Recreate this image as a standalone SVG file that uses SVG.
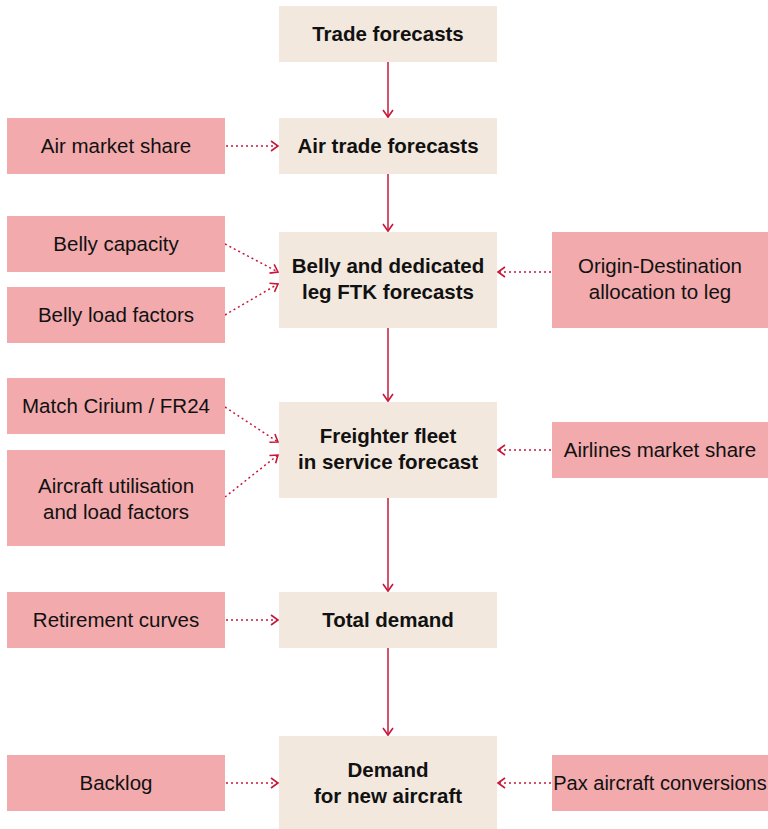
<svg xmlns="http://www.w3.org/2000/svg" width="768" height="829" viewBox="0 0 768 829">
<style>
.c{fill:#F2E8DD}
.p{fill:#F2AAAD}
.tb{font-family:"Liberation Sans",Arial,sans-serif;font-size:20.5px;font-weight:bold;fill:#111;text-anchor:middle}
.tr{font-family:"Liberation Sans",Arial,sans-serif;font-size:20.5px;fill:#111;text-anchor:middle}
.s{stroke:#C8173A;stroke-width:1.5;fill:none}
.d{stroke:#C8173A;stroke-width:1.5;fill:none;stroke-dasharray:2 3}
</style>
<defs>
<marker id="a" markerUnits="userSpaceOnUse" markerWidth="12" markerHeight="12" refX="9" refY="6" orient="auto">
<path d="M2,1 L9,6 L2,11" stroke="#C8173A" stroke-width="1.6" fill="none"/>
</marker>
</defs>
<rect width="768" height="829" fill="#fff"/>
<g id="connectors">
<line class="s" x1="388" y1="62" x2="388" y2="117" marker-end="url(#a)"/>
<line class="s" x1="388" y1="174" x2="388" y2="231" marker-end="url(#a)"/>
<line class="s" x1="388" y1="328" x2="388" y2="401" marker-end="url(#a)"/>
<line class="s" x1="388" y1="498" x2="388" y2="591" marker-end="url(#a)"/>
<line class="s" x1="388" y1="648" x2="388" y2="735" marker-end="url(#a)"/>
<line class="d" x1="226" y1="146" x2="278" y2="146" marker-end="url(#a)"/>
<line class="d" x1="225" y1="244" x2="278" y2="272" marker-end="url(#a)"/>
<line class="d" x1="225" y1="315" x2="278" y2="284" marker-end="url(#a)"/>
<line class="d" x1="225" y1="407" x2="278" y2="442" marker-end="url(#a)"/>
<line class="d" x1="225" y1="497" x2="278" y2="455" marker-end="url(#a)"/>
<line class="d" x1="226" y1="620" x2="278" y2="620" marker-end="url(#a)"/>
<line class="d" x1="226" y1="783" x2="278" y2="783" marker-end="url(#a)"/>
<line class="d" x1="551" y1="272" x2="498" y2="272" marker-end="url(#a)"/>
<line class="d" x1="551" y1="450" x2="498" y2="450" marker-end="url(#a)"/>
<line class="d" x1="551" y1="783" x2="498" y2="783" marker-end="url(#a)"/>
</g>
<g id="trade"><rect class="c" x="279" y="6" width="218" height="56"/><text class="tb" x="388" y="41">Trade forecasts</text></g>
<g id="airtrade"><rect class="c" x="279" y="118" width="218" height="56"/><text class="tb" x="388" y="153">Air trade forecasts</text></g>
<g id="belly"><rect class="c" x="279" y="232" width="218" height="96"/><text class="tb" x="388" y="273">Belly and dedicated</text><text class="tb" x="388" y="299">leg FTK forecasts</text></g>
<g id="freighter"><rect class="c" x="279" y="402" width="218" height="96"/><text class="tb" x="388" y="443">Freighter fleet</text><text class="tb" x="388" y="469">in service forecast</text></g>
<g id="total"><rect class="c" x="279" y="592" width="218" height="56"/><text class="tb" x="388" y="627">Total demand</text></g>
<g id="newac"><rect class="c" x="279" y="736" width="218" height="93"/><text class="tb" x="388" y="777">Demand</text><text class="tb" x="388" y="803">for new aircraft</text></g>
<g id="airmarket"><rect class="p" x="7" y="118" width="218" height="56"/><text class="tr" x="116" y="153">Air market share</text></g>
<g id="bellycap"><rect class="p" x="7" y="216" width="218" height="56"/><text class="tr" x="116" y="251">Belly capacity</text></g>
<g id="bellylf"><rect class="p" x="7" y="287" width="218" height="56"/><text class="tr" x="116" y="322">Belly load factors</text></g>
<g id="cirium"><rect class="p" x="7" y="378" width="218" height="56"/><text class="tr" x="116" y="413">Match Cirium / FR24</text></g>
<g id="util"><rect class="p" x="7" y="450" width="218" height="96"/><text class="tr" x="116" y="493">Aircraft utilisation</text><text class="tr" x="116" y="519">and load factors</text></g>
<g id="retire"><rect class="p" x="7" y="592" width="218" height="56"/><text class="tr" x="116" y="627">Retirement curves</text></g>
<g id="backlog"><rect class="p" x="7" y="755" width="218" height="56"/><text class="tr" x="116" y="790">Backlog</text></g>
<g id="od"><rect class="p" x="552" y="232" width="216" height="96"/><text class="tr" x="660" y="273">Origin-Destination</text><text class="tr" x="660" y="299">allocation to leg</text></g>
<g id="airlines"><rect class="p" x="552" y="422" width="216" height="56"/><text class="tr" x="660" y="457">Airlines market share</text></g>
<g id="pax"><rect class="p" x="552" y="755" width="216" height="56"/><text class="tr" x="660" y="790" style="font-size:20px">Pax aircraft conversions</text></g>
</svg>
